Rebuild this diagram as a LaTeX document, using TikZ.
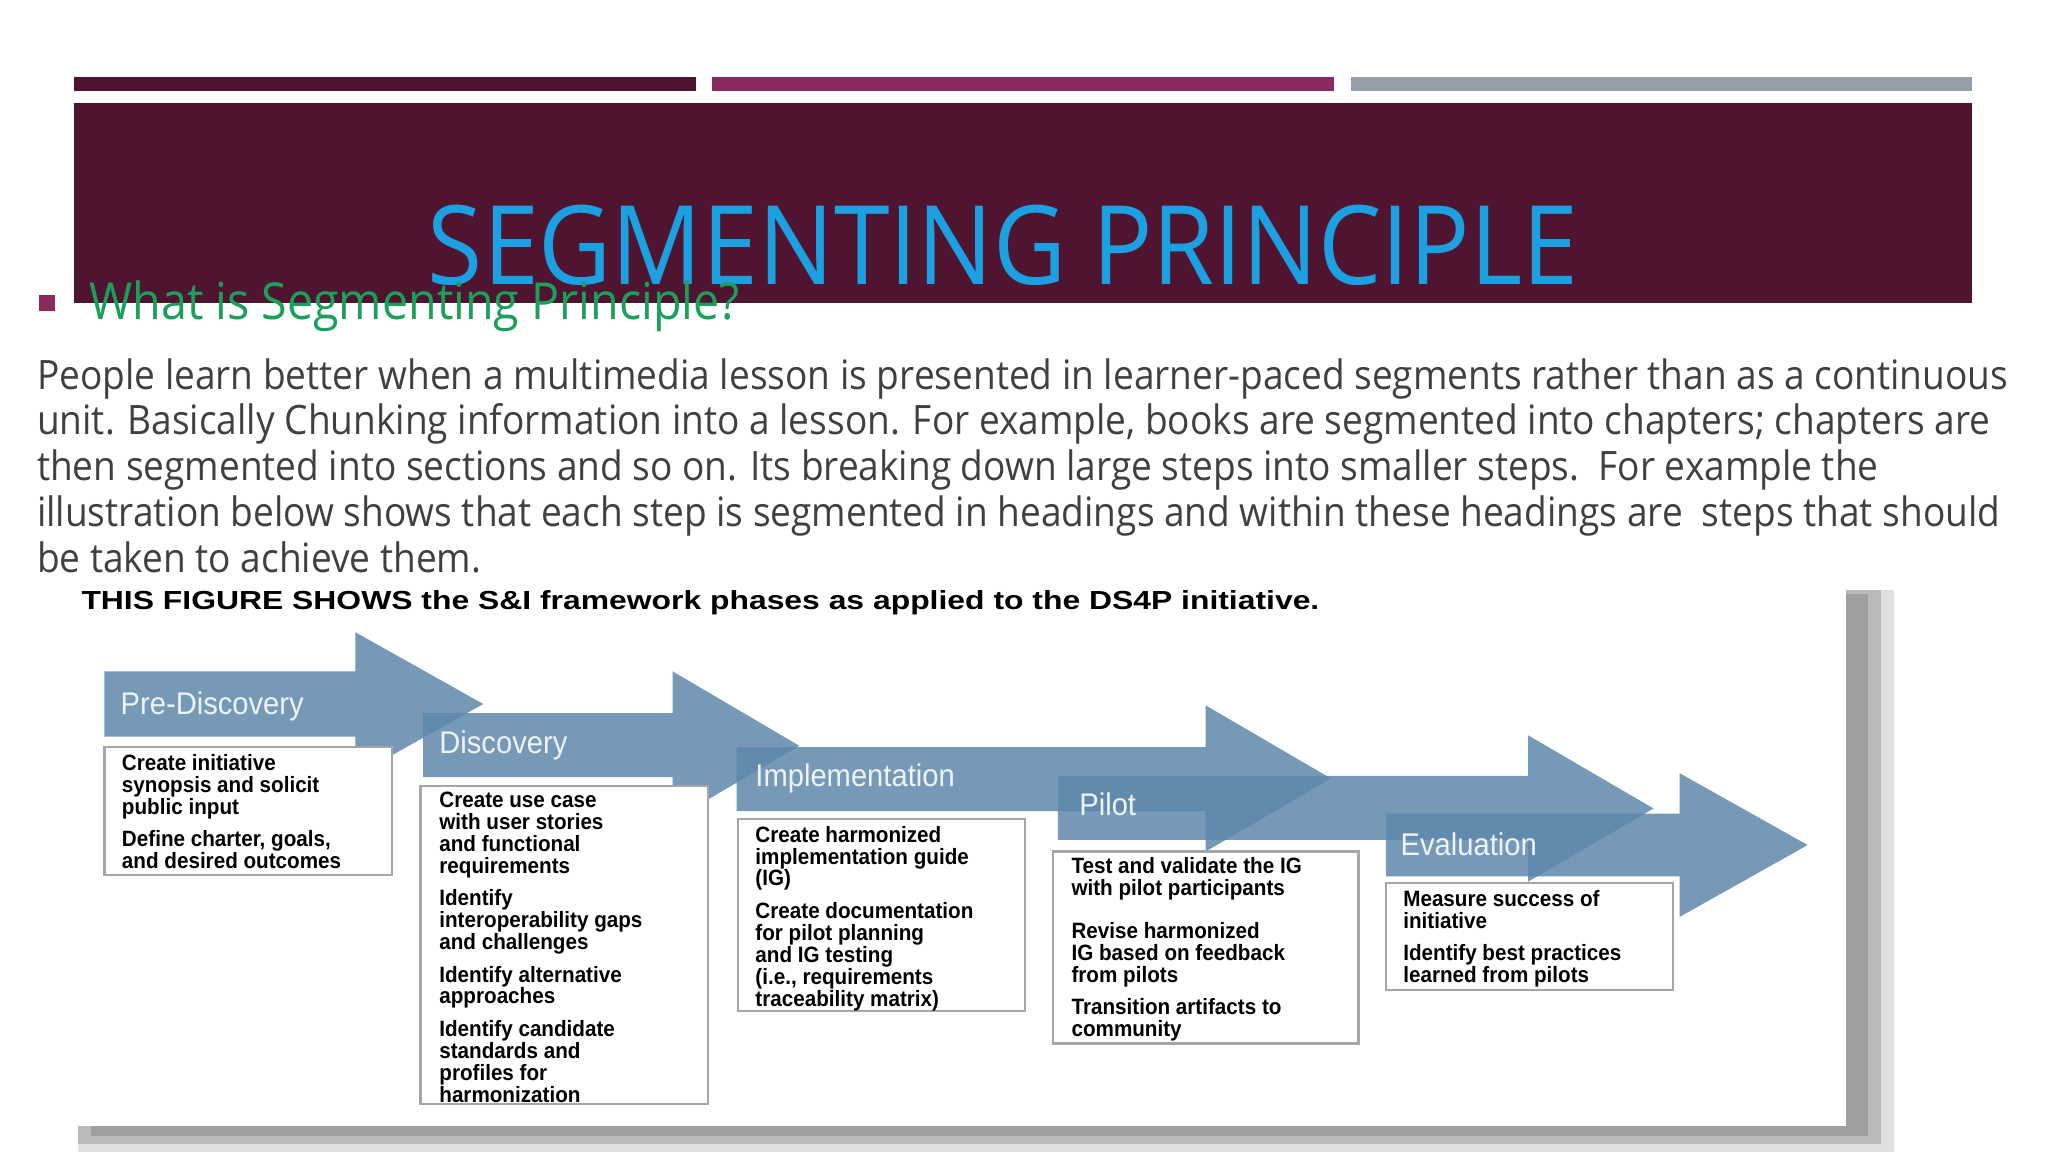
\documentclass[tikz,border=0pt]{standalone}
\usepackage{fontspec}
\setmainfont{Open Sans}[FakeStretch=0.915]
\newfontfamily\lsans{Liberation Sans}
\newfontfamily\lsanswide{Liberation Sans}[FakeStretch=1.22]
\newfontfamily\lsansnarrow{Liberation Sans}[FakeStretch=0.93]
\usetikzlibrary{calc}
\definecolor{plum}{HTML}{4F1530}
\definecolor{mag}{HTML}{8B2A5E}
\definecolor{greybar}{HTML}{97A0AA}
\definecolor{titlecyan}{HTML}{1BA1E2}
\definecolor{headgreen}{HTML}{1AA05A}
\definecolor{bodygrey}{HTML}{404040}
\definecolor{arrowblue}{HTML}{5F88AC}
\definecolor{labelwhite}{HTML}{EEF3F8}
\tikzset{
 phase/.style={fill=arrowblue,fill opacity=0.85,draw=none},
 plabel/.style={anchor=base west,text=labelwhite,font=\lsansnarrow\fontsize{12}{14}\selectfont,inner sep=0},
 stepbox/.style={draw=gray!70,line width=0.9pt,fill=white},
 steptext/.style={anchor=north west,align=left,inner sep=0,font=\lsansnarrow\bfseries\fontsize{8.5}{8.4}\selectfont},
 bodyline/.style={anchor=base west,inner sep=0,text=bodygrey,font=\fontsize{15.5}{18}\selectfont}
}
\begin{document}
\begin{tikzpicture}[x=0.5pt,y=-0.5pt]
\useasboundingbox (0,0) rectangle (1568,882);
\fill[white] (0,0) rectangle (1568,882);
% top bars
\fill[plum] (57,59) rectangle (533,70);
\fill[mag] (545,59) rectangle (1021,70);
\fill[greybar] (1034,59) rectangle (1510,70);
\fill[plum] (57,79) rectangle (1510,232);
\node[anchor=base,inner sep=0,text=titlecyan,font=\fontsize{42}{44}\selectfont] (title) at (768,218) {SEGMENTING PRINCIPLE};
\fill[mag] (30,226) rectangle (42,238);
\node[anchor=base west,inner sep=0,text=headgreen,font=\fontsize{19.5}{22}\selectfont] (q) at (68,245) {What is Segmenting Principle?};
\node[bodyline] (l1) at (28,298) {People learn better when a multimedia lesson is presented in learner-paced segments rather than as a continuous};
\node[bodyline] (l2) at (28,333) {unit. Basically Chunking information into a lesson. For example, books are segmented into chapters; chapters are};
\node[bodyline] (l3) at (28,368) {then segmented into sections and so on. Its breaking down large steps into smaller steps.\ \ For example the};
\node[bodyline] (l4) at (28,403) {illustration below shows that each step is segmented in headings and within these headings are\ \ steps that should};
\node[bodyline] (l5) at (28,438) {be taken to achieve them.};
% figure frame with shadow
\fill[gray!25] (60,862) rectangle (1450,882);
\fill[gray!25] (1413,452) rectangle (1450,882);
\fill[gray!55] (60,862) rectangle (1440,876);
\fill[gray!55] (1413,452) rectangle (1440,876);
\fill[gray!75] (70,862) rectangle (1430,870);
\fill[gray!75] (1413,455) rectangle (1430,870);
\fill[white] (45,445) rectangle (1413,862);
\node[anchor=base west,inner sep=0,font=\lsanswide\bfseries\fontsize{10}{12}\selectfont] (ft) at (62,467) {THIS FIGURE SHOWS the S\&I framework phases as applied to the DS4P initiative.};
% arrows
\fill[phase] (80,514) -- (272,514) -- (272,484) -- (370,539) -- (272,594) -- (272,564) -- (80,564) -- cycle;
\fill[phase] (324,546) -- (515,546) -- (515,514) -- (612,571) -- (515,628) -- (515,595) -- (324,595) -- cycle;
\fill[phase] (564,572) -- (923,572) -- (923,540) -- (1019,596) -- (923,652) -- (923,621) -- (564,621) -- cycle;
\fill[phase] (810,594) -- (1170,594) -- (1170,563) -- (1266,619) -- (1170,675) -- (1170,643) -- (810,643) -- cycle;
\fill[phase] (1061,623) -- (1286,623) -- (1286,592) -- (1384,647) -- (1286,702) -- (1286,671) -- (1061,671) -- cycle;
\node[plabel] (p1) at (92,547) {Pre-Discovery};
\node[plabel] (p2) at (336,577) {Discovery};
\node[plabel] (p3) at (578,602) {Implementation};
\node[plabel] (p4) at (826,624) {Pilot};
\node[plabel] (p5) at (1072,655) {Evaluation};
% boxes
\draw[stepbox] (80,572) rectangle (300,670);
\node[steptext] (t1) at (93,577) {Create initiative\\synopsis and solicit\\public input\\[4pt]Define charter, goals,\\and desired outcomes};
\draw[stepbox] (322,602) rectangle (542,845);
\node[steptext] (t2) at (336,606) {Create use case\\with user stories\\and functional\\requirements\\[4pt]Identify\\interoperability gaps\\and challenges\\[4pt]Identify alternative\\approaches\\[4pt]Identify candidate\\standards and\\profiles for\\harmonization};
\draw[stepbox] (565,627) rectangle (785,774);
\node[steptext] (t3) at (578,632) {Create harmonized\\implementation guide\\(IG)\\[4pt]Create documentation\\for pilot planning\\and IG testing\\(i.e., requirements\\traceability matrix)};
\draw[stepbox] (806,652) rectangle (1040,799);
\node[steptext] (t4) at (820,656) {Test and validate the IG\\with pilot participants\\[8pt]Revise harmonized\\IG based on feedback\\from pilots\\[4pt]Transition artifacts to\\community};
\draw[stepbox] (1061,676) rectangle (1281,758);
\node[steptext] (t5) at (1074,681) {Measure success of\\initiative\\[4pt]Identify best practices\\learned from pilots};
\end{tikzpicture}
\end{document}
